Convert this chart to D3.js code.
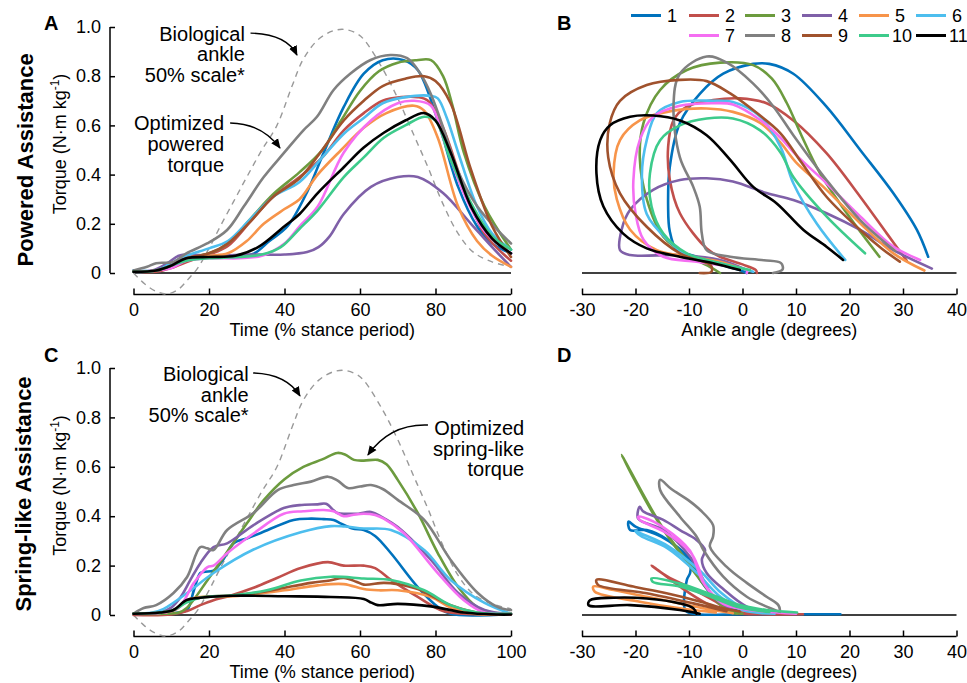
<!DOCTYPE html>
<html>
<head>
<meta charset="utf-8">
<script src="https://cdn.jsdelivr.net/npm/d3@7"></script>
<style>
  body { margin: 0; background: #fff; }
  svg { font-family: "Liberation Sans", Arial, Helvetica, sans-serif; }
</style>
</head>
<body>
<svg id="chart" width="967" height="683"></svg>
<script>
// subjects and their colours
var subjects = ['1','2','3','4','5','6','7','8','9','10','11'];
var colors = ['#0072BD','#C14F4B','#6C9B3E','#7F60A8','#F7944A','#4DBEEE','#F56EF2','#808080','#A0522D','#3DCB8B','#000000'];

var timeTicks = [0, 20, 40, 60, 80, 100];
var angleTicks = [-30, -20, -10, 0, 10, 20, 30, 40];
var torqueTicks = [0, 0.2, 0.4, 0.6, 0.8, 1.0];

// biological ankle torque, 50% scale  [% stance, N·m/kg]
var bioTorque = [[0,0],[3,-.045],[6,-.075],[9,-.085],[12,-.065],[14.5,-.025],[17,.02],[20,.1],[23,.19],[26.5,.29],[30,.39],[34,.5],[38,.6],[42,.76],[45,.87],[49,.95],[53,.985],[56,.99],[59,.975],[61,.95],[66,.83],[70,.71],[74,.57],[78,.43],[82,.28],[86,.16],[90,.085],[95,.045],[100,.025]];

// A: powered torque vs time, one array per subject
var poweredTime = [
  [[0,.01],[6,.01],[10,.03],[14,.06],[20,.065],[28,.065],[32,.08],[36,.13],[40.8,.19],[46,.33],[50.4,.49],[55.7,.675],[61,.81],[66,.865],[71.6,.865],[75.3,.825],[80.6,.62],[86,.35],[91,.19],[95,.12],[100,.08]],
  [[0,.005],[6,.005],[10,.02],[15,.05],[20,.075],[25,.11],[31,.21],[37,.31],[44,.39],[50,.47],[55.7,.58],[61,.65],[66,.70],[71,.715],[75.3,.715],[78,.70],[82,.59],[87.5,.35],[93,.16],[100,.05]],
  [[0,.005],[6,.01],[10,.03],[14,.06],[20,.08],[25,.12],[31,.22],[37,.32],[44,.41],[50,.5],[55,.62],[60,.74],[65,.82],[70,.855],[75,.865],[78.8,.865],[82,.8],[84.5,.68],[87.5,.49],[93,.27],[100,.095]],
  [[0,.005],[5,.01],[9,.04],[12,.07],[15,.075],[20,.07],[30,.075],[40,.075],[46,.085],[49,.105],[52,.15],[55.7,.24],[62.9,.35],[70,.39],[75.3,.39],[82,.325],[89.4,.2],[95,.105],[100,.025]],
  [[0,.005],[6,.01],[10,.03],[14,.06],[20,.07],[25,.08],[30,.13],[34.5,.2],[40,.26],[44,.30],[48.8,.40],[55,.50],[61,.59],[67,.65],[74.3,.68],[77,.66],[80.6,.55],[86,.27],[91,.13],[95,.07],[100,.025]],
  [[0,.005],[6,.01],[10,.04],[14,.07],[20,.1],[25,.13],[31,.22],[37,.31],[44,.37],[50,.47],[56,.57],[61,.63],[66,.69],[72,.715],[78.8,.72],[80.6,.71],[83,.63],[86,.49],[91,.27],[95,.16],[100,.095]],
  [[0,.005],[6,.01],[10,.02],[14,.05],[20,.06],[28,.06],[34,.07],[40,.12],[44,.19],[48.8,.27],[55.7,.49],[62.9,.62],[70,.69],[74.3,.70],[78.8,.68],[82,.55],[87.5,.325],[93,.17],[100,.08]],
  [[0,.01],[3.6,.025],[6,.04],[10.6,.045],[14,.08],[19.5,.12],[24.8,.175],[29.2,.27],[34.5,.39],[39.8,.487],[45,.58],[48.6,.635],[53,.744],[57.4,.81],[62.8,.866],[68,.886],[72.5,.873],[76,.81],[78.7,.73],[82.3,.58],[85.8,.42],[91.1,.27],[96.4,.175],[100,.12]],
  [[0,.005],[6,.01],[10,.03],[14,.06],[20,.08],[25,.12],[31,.21],[37,.31],[44,.385],[50,.50],[55.7,.62],[61,.7],[66,.76],[72,.79],[77,.80],[80,.78],[84,.69],[89.4,.42],[95,.19],[100,.065]],
  [[0,.005],[6,.01],[10,.03],[14,.05],[20,.06],[28,.065],[34,.075],[39,.105],[44,.18],[48.8,.255],[55.7,.39],[61,.47],[66.3,.55],[72,.6],[77,.635],[80,.62],[84,.46],[91,.24],[95,.15],[100,.095]],
  [[0,.005],[6,.01],[10,.03],[14,.06],[20,.065],[27,.07],[33,.105],[40,.19],[44,.24],[48.8,.325],[55.7,.43],[61,.51],[66.3,.57],[72,.62],[77,.65],[80,.62],[84,.49],[89.4,.27],[95,.14],[100,.08]]
];

// B: powered torque vs ankle angle  [degrees, N·m/kg]
var poweredLoop = [
  [[0.8,0],[-0.5,.012],[-3.5,.03],[-6.7,.053],[-10,.075],[-12.3,.093],[-13.6,.17],[-13.9,.27],[-13.6,.43],[-11.7,.61],[-7.9,.73],[-3.6,.81],[2,.85],[5,.85],[9.5,.81],[15.7,.676],[22,.5],[28.2,.324],[32.6,.175],[34.7,.066]],
  [[2.7,0],[2.5,.012],[0,.035],[-4.2,.066],[-6.7,.1],[-11.7,.243],[-13.6,.38],[-13.9,.513],[-12.9,.62],[-10.4,.676],[-5.5,.703],[-0.5,.71],[4.5,.69],[9.5,.62],[15.7,.487],[22,.31],[27,.16],[30.7,.05]],
  [[-4.2,0],[-6.5,.03],[-9.8,.066],[-14.8,.148],[-17.9,.3],[-19.2,.47],[-18.5,.61],[-15.4,.744],[-10.4,.825],[-4.2,.855],[2,.845],[5.5,.79],[8.3,.69],[11,.56],[14.5,.405],[19.5,.243],[23.2,.134],[25.6,.066]],
  [[0.8,.012],[-4.2,.053],[-11.7,.073],[-21,.073],[-22.9,.093],[-22.6,.176],[-21,.257],[-16.7,.338],[-11.7,.378],[-6.7,.385],[-1.8,.372],[4.5,.325],[9.5,.297],[15.7,.243],[22,.175],[28.2,.093],[35.4,.018]],
  [[-0.5,.02],[-4.2,.046],[-9.8,.066],[-16,.093],[-21,.176],[-23.5,.3],[-24.1,.405],[-22.9,.54],[-19.2,.62],[-12.9,.66],[-6.7,.669],[-1.8,.655],[3.3,.61],[7.1,.53],[10,.45],[15.7,.338],[22,.202],[28.2,.08],[34,.01]],
  [[2,.005],[-0.5,.02],[-4.2,.04],[-9.8,.066],[-14,.135],[-17.9,.24],[-18.8,.40],[-17.9,.54],[-16,.65],[-11.7,.695],[-5.5,.70],[-1.8,.695],[3.3,.636],[7.1,.513],[9.5,.365],[13.9,.2],[19.2,.053]],
  [[0.8,0],[0.8,.012],[-2.3,.026],[-8.6,.046],[-14.8,.066],[-18.5,.135],[-20,.243],[-20.4,.376],[-19.2,.54],[-16.7,.635],[-11.7,.68],[-5.5,.69],[-1.8,.685],[3.3,.622],[7.1,.55],[10,.48],[15.7,.365],[22,.23],[28.2,.107],[33.2,.053]],
  [[5.7,0],[7.5,.015],[7.2,.04],[4,.052],[-2.3,.066],[-6.7,.093],[-7.6,.16],[-8,.27],[-9.2,.35],[-11.7,.47],[-12.9,.676],[-11.7,.81],[-6.7,.88],[-3,.856],[2,.77],[5.8,.676],[9.5,.56],[15.7,.378],[22,.215],[28.5,.09]],
  [[-8,0],[-5.8,.005],[-5.9,.03],[-8.5,.055],[-11.7,.08],[-17.9,.188],[-22.9,.324],[-25.1,.47],[-24.8,.61],[-22.9,.70],[-17.9,.764],[-11.7,.785],[-6.7,.78],[-2.3,.73],[2.7,.65],[7.1,.568],[11,.45],[15.7,.31],[22,.175],[26,.1],[29.4,.046]],
  [[1.4,.012],[-4.2,.04],[-10.4,.08],[-14.8,.16],[-17,.27],[-17.3,.405],[-15.4,.54],[-11.7,.6],[-6.7,.628],[-1.8,.628],[3.3,.58],[7.1,.49],[9.5,.39],[15.7,.23],[22.9,.08]],
  [[-0.5,.012],[-5.5,.04],[-11.7,.066],[-17.9,.10],[-22.3,.16],[-26,.27],[-27.3,.405],[-26.6,.54],[-24.8,.6],[-21,.635],[-16.7,.64],[-11.7,.62],[-6.7,.56],[-2.3,.46],[2,.35],[6.4,.283],[11.4,.175],[15.7,.107],[18.8,.053]]
];

// C: spring-like torque vs time
var springTime = [
  [[0,.005],[8,.005],[12,.01],[14.2,.02],[16,.1],[17.7,.17],[19,.175],[21.2,.18],[24,.23],[26.5,.29],[30,.31],[33.7,.332],[42.4,.385],[47,.39],[50.4,.388],[53,.385],[55,.37],[58,.35],[61,.344],[64,.32],[68.2,.25],[75.3,.113],[80.6,.033],[84,.005],[100,.005]],
  [[0,0],[10,.002],[14.2,.016],[17.7,.04],[21.2,.06],[25,.075],[31.8,.11],[38,.15],[44.3,.19],[51.5,.214],[55.7,.2],[61,.2],[64,.19],[68.2,.142],[75.3,.073],[82,.016],[87.5,.005],[100,.002]],
  [[0,.005],[8,.005],[12,.01],[14.2,.03],[20,.15],[25.7,.275],[30,.37],[34.5,.465],[40,.55],[45,.6],[50,.63],[54,.656],[56,.65],[58.4,.628],[61,.625],[64.7,.628],[67,.61],[70,.547],[75.3,.413],[80.6,.251],[86,.113],[91,.032],[95,.01],[100,.005]],
  [[0,.005],[7,.01],[10,.03],[12.5,.073],[15,.14],[17.7,.21],[21.2,.275],[24.8,.29],[31.8,.364],[39.8,.433],[44,.445],[48.8,.448],[51,.45],[54,.413],[57,.41],[59.6,.41],[62.9,.417],[66,.395],[70,.356],[78.8,.223],[86,.089],[93,.02],[100,.005]],
  [[0,.005],[7,.01],[11,.02],[14.2,.06],[17.7,.073],[26.5,.076],[40,.1],[48.8,.12],[55.7,.125],[61,.105],[65,.1],[70,.1],[78.8,.073],[84,.03],[90,.005],[100,.005]],
  [[0,.005],[5,.01],[8,.025],[14.2,.089],[21.2,.17],[31.8,.265],[44.3,.335],[52.3,.36],[56,.358],[61,.35],[68.2,.344],[77,.263],[84,.142],[93,.049],[100,.005]],
  [[0,.005],[8,.01],[12,.03],[16,.13],[19.6,.194],[21.2,.2],[24.8,.25],[31.8,.33],[39.8,.41],[45,.42],[50.4,.425],[53,.42],[55.7,.4],[58,.405],[61,.41],[64,.405],[66.3,.39],[71.6,.332],[80.6,.17],[87.5,.06],[93,.01],[100,.005]],
  [[0,.005],[2.7,.028],[6,.04],[10.6,.089],[14.2,.154],[17.7,.275],[19.5,.27],[21.2,.263],[24.8,.344],[31.8,.413],[38.2,.506],[42.4,.526],[47,.54],[51.5,.56],[54,.545],[56.8,.514],[60,.52],[62.9,.526],[66,.51],[70,.466],[77,.385],[84,.223],[91.2,.089],[96.5,.032],[100,.02]],
  [[0,.005],[7,.01],[10.6,.02],[14,.055],[17.7,.07],[26.5,.08],[35,.095],[40,.11],[47,.13],[52,.14],[55.7,.15],[59,.135],[61,.123],[66.3,.13],[70,.125],[75.3,.105],[84,.04],[93,.005],[100,.005]],
  [[0,.005],[7,.01],[10.6,.02],[14,.05],[17.7,.07],[26.5,.08],[35.3,.1],[44.3,.14],[52.3,.155],[61,.148],[68.2,.142],[77,.1],[84,.04],[91,.01],[100,.005]],
  [[0,.005],[7,.01],[10.6,.02],[14,.06],[17.7,.07],[26.5,.078],[40,.076],[52.3,.073],[61,.065],[63,.05],[64.7,.04],[70,.045],[78.8,.035],[87.5,.01],[96.5,.002],[100,.002]]
];

// D: spring-like torque vs ankle angle
var springLoop = [
  [[-0.5,.014],[-4.2,.05],[-7.9,.142],[-10.2,.236],[-15.2,.317],[-20,.358],[-21.3,.378],[-21,.344],[-17.9,.344],[-14,.304],[-9.8,.209],[-9.8,.17],[-10.4,.142],[-10.7,.02],[-9.2,.005],[0,.003],[10,.003],[18.3,.003]],
  [[11.3,.003],[2,.005],[-2.3,.02],[-5.5,.06],[-10.2,.115],[-14,.155],[-17,.2],[-16.3,.19],[-11.7,.115],[-6.7,.047],[-2,.01],[3,.003]],
  [[-1,.005],[-3,.02],[-9.8,.196],[-16,.385],[-22.6,.648],[-22,.625],[-15.4,.37],[-9,.18],[-3.5,.03],[0,.005]],
  [[-2.3,.027],[-5.5,.074],[-7.3,.142],[-9.8,.236],[-14.8,.344],[-19.5,.39],[-19.2,.438],[-18.6,.42],[-14.8,.385],[-11.7,.344],[-8.6,.304],[-7,.263],[-7.6,.223],[-6.7,.17],[-3.6,.105],[0.8,.034],[4.5,.014]],
  [[-1.8,.007],[-5.5,.02],[-11.7,.047],[-17.9,.074],[-24.1,.101],[-27.9,.115],[-27.6,.094],[-19.2,.054],[-11.7,.027],[-5,.01]],
  [[4,.008],[0,.03],[-4,.09],[-8,.18],[-14,.28],[-19,.33],[-20,.34],[-19,.32],[-14,.27],[-8.5,.17],[-4.5,.08],[0,.02],[6,.005]],
  [[7,.01],[2,.018],[-3.6,.045],[-7,.12],[-8.2,.19],[-9.6,.25],[-14.5,.335],[-19.2,.385],[-19.5,.398],[-18.5,.395],[-14.8,.355],[-9.8,.26],[-8.6,.2],[-7.3,.13],[-3.6,.05],[2,.02],[10,.005]],
  [[7,.013],[4.5,.034],[0.8,.074],[-3.6,.155],[-7.3,.263],[-8.6,.318],[-11.7,.398],[-15.4,.506],[-15.4,.547],[-13.3,.51],[-10.2,.466],[-7.9,.425],[-5.5,.364],[-5.5,.318],[-6.1,.277],[-3,.196],[0.8,.13],[4.5,.074],[6.7,.04],[7,.02]],
  [[-0.5,.014],[-3.6,.027],[-8,.055],[-14.2,.088],[-20.4,.115],[-27.3,.142],[-27,.122],[-17.9,.088],[-9.2,.047],[-3,.015]],
  [[10.2,.01],[4.5,.02],[-0.5,.04],[-5.5,.08],[-11.7,.127],[-17,.148],[-16.8,.135],[-11.7,.115],[-5.5,.07],[-0.5,.03],[5,.012]],
  [[-8.6,.005],[-9.2,.027],[-11.7,.047],[-17.9,.067],[-24.1,.07],[-28.5,.06],[-28.8,.04],[-21,.04],[-11.7,.02],[-8,.005]]
];

var svg = d3.select('#chart');

//scales for the four panels
var xTime = d3.scaleLinear().domain([0, 100]).range([133.5, 511]);
var xAngle = d3.scaleLinear().domain([-30, 40]).range([582, 956.5]);
var yTop = d3.scaleLinear().domain([0, 1]).range([273, 27]);
var yBot = d3.scaleLinear().domain([0, 1]).range([615, 368]);

function drawPanel(xs, ys, series, withYAxis, xTicks, xTitle, letter, letterY) {
  var g = svg.append('g');

  //zero line
  g.append('line')
    .attr('x1', xs.range()[0]).attr('x2', xs.range()[1])
    .attr('y1', ys(0)).attr('y2', ys(0))
    .attr('stroke', '#000').attr('stroke-width', 1.3);

  //x axis sits a bit below the zero line, ticks point up
  var xAxis = d3.axisBottom(xs).tickValues(xTicks).tickSize(-6).tickPadding(9)
    .tickFormat(function(d) { return String(d); });
  var ax = g.append('g')
    .attr('transform', 'translate(0,' + (ys(0) + 21.5) + ')')
    .call(xAxis);
  ax.select('.domain').attr('stroke-width', 1.5).attr('d', 'M' + xs.range()[0] + ',0H' + xs.range()[1]);
  ax.selectAll('.tick line').attr('stroke-width', 1.5);
  ax.selectAll('text').attr('font-size', 18).attr('fill', '#000').attr('dy', '0.71em');

  g.append('text')
    .attr('x', (xs.range()[0] + xs.range()[1]) / 2)
    .attr('y', ys(0) + 63)
    .attr('text-anchor', 'middle')
    .attr('font-size', 18)
    .text(xTitle);

  if (withYAxis) {
    var yAxis = d3.axisLeft(ys).tickValues(torqueTicks).tickSize(-5).tickPadding(9)
      .tickFormat(function(d) { return d === 0 ? '0' : d3.format('.1f')(d); });
    var ay = g.append('g').attr('transform', 'translate(110,0)').call(yAxis);
    ay.select('.domain').attr('stroke-width', 1.5).attr('d', 'M0,' + ys(1) + 'V' + ys(0));
    ay.selectAll('.tick line').attr('stroke-width', 1.5);
    ay.selectAll('text').attr('font-size', 18).attr('fill', '#000');

    var lab = g.append('text')
      .attr('transform', 'translate(66,' + (ys(0.5) - 6) + ') rotate(-90)')
      .attr('text-anchor', 'middle')
      .attr('font-size', 18);
    lab.append('tspan').text('Torque (N\u00b7m kg');
    lab.append('tspan').attr('font-size', 12).attr('dy', -7).text('-1');
    lab.append('tspan').attr('dy', 7).text(')');

    //biological reference, dashed
    g.append('path')
      .datum(bioTorque)
      .attr('fill', 'none')
      .attr('stroke', '#999')
      .attr('stroke-width', 1.4)
      .attr('stroke-dasharray', '6,5')
      .attr('d', d3.line().curve(d3.curveCatmullRom)
        .x(function(d) { return xs(d[0]); })
        .y(function(d) { return ys(d[1]); }));
  }

  var line = d3.line().curve(d3.curveCatmullRom.alpha(0.5))
    .x(function(d) { return xs(d[0]); })
    .y(function(d) { return ys(d[1]); });

  g.selectAll('path.subj')
    .data(series)
    .enter().append('path')
    .attr('class', 'subj')
    .attr('fill', 'none')
    .attr('stroke', function(d, i) { return colors[i]; })
    .attr('stroke-width', 2.6)
    .attr('stroke-linejoin', 'round')
    .attr('stroke-linecap', 'round')
    .attr('d', line);

  g.append('text')
    .attr('x', withYAxis ? 44 : 557)
    .attr('y', letterY)
    .attr('font-size', 20)
    .attr('font-weight', 'bold')
    .text(letter);
}

drawPanel(xTime, yTop, poweredTime, true, timeTicks, 'Time (% stance period)', 'A', 30);
drawPanel(xAngle, yTop, poweredLoop, false, angleTicks, 'Ankle angle (degrees)', 'B', 30);
drawPanel(xTime, yBot, springTime, true, timeTicks, 'Time (% stance period)', 'C', 362);
drawPanel(xAngle, yBot, springLoop, false, angleTicks, 'Ankle angle (degrees)', 'D', 362);

//row titles
svg.append('text')
  .attr('transform', 'translate(33,' + yTop(0.46) + ') rotate(-90)')
  .attr('text-anchor', 'middle').attr('font-size', 22).attr('font-weight', 'bold')
  .text('Powered Assistance');
svg.append('text')
  .attr('transform', 'translate(31,' + yBot(0.49) + ') rotate(-90)')
  .attr('text-anchor', 'middle').attr('font-size', 22).attr('font-weight', 'bold')
  .text('Spring-like Assistance');

//annotations: text lines with anchor in data units, arrows as quadratic curves
var notes = [
  {xs: xTime, ys: yTop, at: [29.5, 0.945], lines: ['Biological', 'ankle', '50% scale*'], arrow: [[31, 0.975], [40.5, 0.972], [43.3, 0.886]]},
  {xs: xTime, ys: yTop, at: [24, 0.58], lines: ['Optimized', 'powered', 'torque'], arrow: [[25.6, 0.61], [34, 0.608], [38.8, 0.508]]},
  {xs: xTime, ys: yBot, at: [30.5, 0.948], lines: ['Biological', 'ankle', '50% scale*'], arrow: [[31.7, 0.98], [40.5, 0.976], [44.1, 0.887]]},
  {xs: xTime, ys: yBot, at: [103.5, 0.729], lines: ['Optimized', 'spring-like', 'torque'], arrow: [[78, 0.769], [68, 0.775], [62.1, 0.648]]}
];

var defs = svg.append('defs');
defs.append('marker')
  .attr('id', 'head').attr('viewBox', '0 0 10 10')
  .attr('refX', 9).attr('refY', 5)
  .attr('markerWidth', 10).attr('markerHeight', 10)
  .attr('markerUnits', 'userSpaceOnUse')
  .attr('orient', 'auto')
  .append('path').attr('d', 'M0,0.8L10,5L0,9.2Z').attr('fill', '#000');

notes.forEach(function(n) {
  var t = svg.append('text')
    .attr('x', n.xs(n.at[0])).attr('y', n.ys(n.at[1]))
    .attr('text-anchor', 'end').attr('font-size', 20);
  n.lines.forEach(function(s, i) {
    t.append('tspan').attr('x', n.xs(n.at[0])).attr('dy', i === 0 ? 0 : 20.7).text(s);
  });
  var p = d3.path();
  p.moveTo(n.xs(n.arrow[0][0]), n.ys(n.arrow[0][1]));
  p.quadraticCurveTo(n.xs(n.arrow[1][0]), n.ys(n.arrow[1][1]), n.xs(n.arrow[2][0]), n.ys(n.arrow[2][1]));
  svg.append('path').attr('d', p.toString())
    .attr('fill', 'none').attr('stroke', '#000').attr('stroke-width', 1.4)
    .attr('marker-end', 'url(#head)');
});

//legend
var legCols = [631, 689, 745, 802, 859, 916];
var leg = svg.append('g');
subjects.forEach(function(s, i) {
  var row = i < 6 ? 0 : 1;
  var col = i < 6 ? i : i - 5;
  var x = legCols[col], y = row === 0 ? 15.5 : 35.5;
  leg.append('line').attr('x1', x).attr('x2', x + 30).attr('y1', y).attr('y2', y)
    .attr('stroke', colors[i]).attr('stroke-width', 3);
  leg.append('text').attr('x', x + (i >= 9 ? 33 : 36)).attr('y', y + 6.5)
    .attr('font-size', 18).text(s);
});
</script>
</body>
</html>
